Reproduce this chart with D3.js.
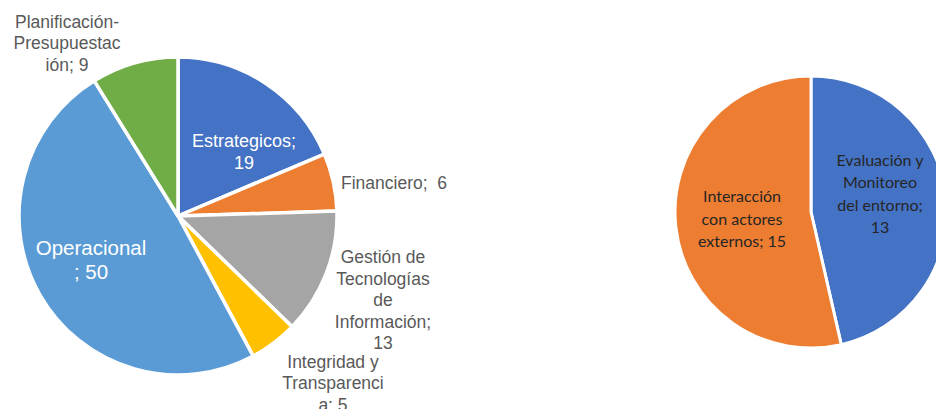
<!DOCTYPE html>
<html><head><meta charset="utf-8">
<script src="https://cdn.jsdelivr.net/npm/d3@7/dist/d3.min.js"></script>
<style>html,body{margin:0;padding:0;background:#fff;overflow:hidden}</style>
</head><body><svg id="c" width="936" height="409"></svg>
<script>
// ---- data ----
const leftCategories = ["Estrategicos", "Financiero", "Gestión de Tecnologías de Información", "Integridad y Transparencia", "Operacional", "Planificación-Presupuestación"];
const leftValues = [19, 6, 13, 5, 50, 9];
const leftLabelLines = [
  ["Estrategicos;", "19"],
  ["Financiero;  6"],
  ["Gestión de", "Tecnologías", "de", "Información;", "13"],
  ["Integridad y", "Transparenci", "a; 5"],
  ["Operacional", "; 50"],
  ["Planificación-", "Presupuestac", "ión; 9"]
];
const rightCategories = ["Evaluación y Monitoreo del entorno", "Interacción con actores externos"];
const rightValues = [13, 15];
const rightLabelLines = [
  ["Evaluación y", "Monitoreo", "del entorno;", "13"],
  ["Interacción", "con actores", "externos; 15"]
];

// ---- layout / style ----
const leftColors = ["#4472C4", "#ED7D31", "#A5A5A5", "#FFC000", "#5B9BD5", "#70AD47"];
const rightColors = ["#4472C4", "#ED7D31"];
const leftLabelOffsets = [[66,-64],[216,-33],[205,84],[155,167],[-87,44],[-111,-173]];
const leftLabelFill = ["#fff","#595959","#595959","#595959","#fff","#595959"];
const leftLabelSize = [18,17.5,17.5,17.5,20.5,17.5];
const rightLabelOffsets = [[69,-18],[-69,7]];

const svg = d3.select("#c");

function drawPie(cx, cy, r, cats, values, colors, strokeW) {
  const pie = d3.pie().sort(null).value(d => d)(values);
  const arc = d3.arc().innerRadius(0).outerRadius(r);
  const g = svg.append("g").attr("transform", `translate(${cx},${cy})`);
  g.selectAll("path").data(pie).join("path")
    .attr("d", arc)
    .attr("fill", (d,i) => colors[i])
    .attr("stroke", "#fff").attr("stroke-width", strokeW).attr("stroke-linejoin","round");
  return g;
}

function drawLabels(g, lines, offsets, fills, sizes, family, lh) {
  lines.forEach((ls, i) => {
    const [ox, oy] = offsets[i];
    const t = g.append("text")
      .attr("text-anchor", "middle")
      .attr("font-family", family)
      .attr("font-size", sizes[i])
      .attr("fill", fills[i]);
    const lhi = lh[i];
    const y0 = oy - (ls.length - 1) / 2 * lhi;
    ls.forEach((s, j) => {
      t.append("tspan").attr("x", ox).attr("y", y0 + j * lhi).attr("dy", "0.35em")
        .attr("xml:space","preserve").text(s);
    });
  });
}

const gl = drawPie(178, 216, 159, leftCategories, leftValues, leftColors, 3.5);
drawLabels(gl, leftLabelLines, leftLabelOffsets, leftLabelFill, leftLabelSize,
  "'Liberation Sans', Arial, sans-serif", [22, 21.5, 21.5, 21.5, 24, 21.5]);

const gr = drawPie(811, 212, 136, rightCategories, rightValues, rightColors, 3);
drawLabels(gr, rightLabelLines, rightLabelOffsets, ["#262626","#262626"], [16,16],
  "Lato, 'Open Sans', sans-serif", [22.5, 22.5]);
</script></body></html>
